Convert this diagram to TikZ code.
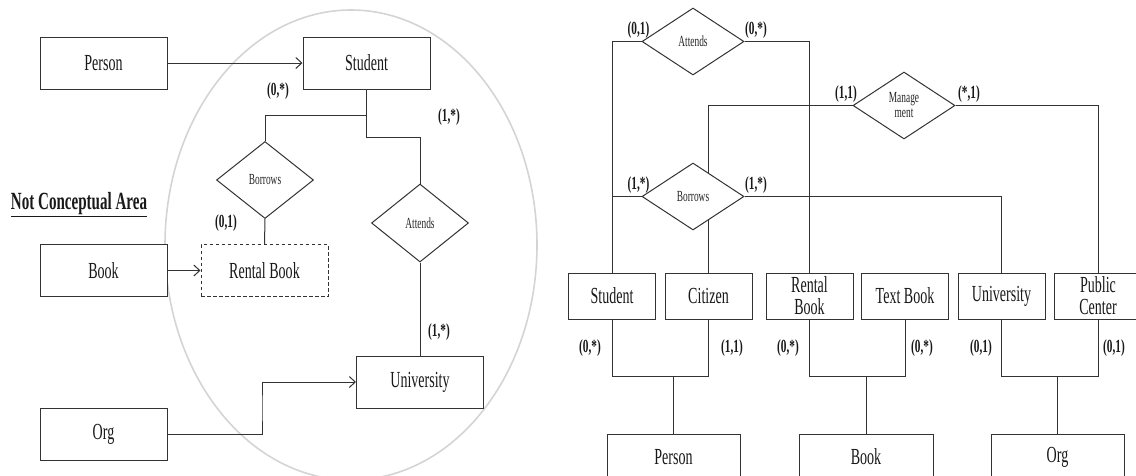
\documentclass[tikz,border=0pt]{standalone}
\usepackage{fontspec}
\setmainfont{Liberation Serif}[FakeStretch=0.61]
\usetikzlibrary{shapes.geometric,arrows.meta}
\pgfdeclarelayer{bg}
\pgfsetlayers{bg,main}

\tikzset{
  ent/.style={draw=black!80, fill=white, line width=1pt, inner sep=0pt,
    minimum width=127pt, minimum height=52pt, text=black!90,
    font=\fontsize{23}{22}\selectfont},
  sub/.style={ent, minimum width=87pt, minimum height=46pt, align=center},
  base/.style={ent, minimum width=133pt, minimum height=46pt},
  rel/.style={diamond, draw=black!80, fill=white, line width=1pt, inner sep=0pt,
    align=center, text=black!85, font=\fontsize{15.4}{15}\selectfont},
  lrel/.style={rel, minimum width=97pt, minimum height=78pt},
  rrel/.style={rel, minimum width=102pt, minimum height=67pt},
  card/.style={inner sep=0pt, text=black!90, font=\fontsize{18.5}{18}\selectfont\bfseries},
  link/.style={draw=black!80, line width=1pt},
  isa/.style={link, -{Straight Barb[length=6pt,width=11pt]}},
  area/.style={draw=black!17, line width=1.6pt},
}

\begin{document}
\begin{tikzpicture}[x=1pt,y=-1pt]
\useasboundingbox (0,0) rectangle (1136,475);
\clip (0,0) rectangle (1136,475);

% ---------------- left: conceptual schema ----------------
\begin{pgfonlayer}{bg}
  \draw[area] (351,245) ellipse [x radius=186pt, y radius=235pt];
\end{pgfonlayer}

\node[ent] (lperson)  at (103.5,63)  {Person};
\node[ent] (lstudent) at (366.5,63)  {Student};
\node[ent] (lbook)    at (103.5,270.5) {Book};
\node[ent, dash pattern=on 3.5pt off 2.5pt] (lrental) at (264.5,270.5) {Rental Book};
\node[ent] (lorg)     at (103.5,434.5) {Org};
\node[ent] (luni)     at (420,382)   {University};
\node[lrel, minimum height=77pt] (lborrows) at (265,180) {Borrows};
\node[lrel] (lattends) at (420,223) {Attends};

\node[inner sep=0pt, text=black!90, font=\fontsize{24.7}{24}\selectfont\bfseries]
  (lnote) at (79,205) {\underline{Not Conceptual Area}};

\coordinate (lsplit) at (366.5,115);
\coordinate (lbend)  at (366.5,137);
\coordinate (lstep)  at (262,408);

\draw[isa] (lperson) -- (lstudent);
\draw[isa] (lbook) -- (lrental);
\draw[link] (lstudent.south) -- (lsplit) -| (lborrows.north);
\draw[link] (lsplit) -- (lbend) -| (lattends.north);
\draw[link] (lborrows.south) -- (lrental.north);
\draw[link] (lattends.south) -- (luni.north);
\draw[isa] (lorg.east) -| (lstep) |- (luni.west);

\node[card] at (278,91)  {(0,*)};
\node[card] at (449,117) {(1,*)};
\node[card] at (226,223) {(0,1)};
\node[card] at (439,332) {(1,*)};

% ---------------- right: logical schema ----------------
\node[rrel] (rattends) at (693,41.5)  {Attends};
\node[rrel] (rmanage)  at (904,105.5) {Manage\\ment};
\node[rrel] (rborrows) at (693,196.5) {Borrows};

\node[sub] (rstudent) at (612,296)    {Student};
\node[sub] (rcitizen) at (708.5,296)  {Citizen};
\node[sub] (rrental)  at (809.5,296)  {Rental\\Book};
\node[sub] (rtext)    at (905,296)    {Text Book};
\node[sub] (runi)     at (1001.5,296) {University};
\node[sub] (rpublic)  at (1098,296)   {Public\\Center};

\node[base] (rperson) at (673.5,457) {Person};
\node[base, minimum width=134pt] (rbook) at (866,457) {Book};
\node[base] (rorg)    at (1057.5,457) {Org};

\coordinate (rj1) at (673.5,376);
\coordinate (rj2) at (866,376);
\coordinate (rj3) at (1057.5,376);

\begin{pgfonlayer}{bg}
  \draw[link] (rattends.west) -| (rstudent.north);
  \draw[link] (rattends.east) -| (rrental.north);
  \draw[link] (rmanage.west) -| (rcitizen.north);
  \draw[link] (rmanage.east) -| (rpublic.north);
  \draw[link] (rborrows.west) -- (rborrows.west -| rstudent.north);
  \draw[link] (rborrows.east) -| (runi.north);

  \draw[link] (rstudent.south) -- (rstudent.south |- rj1) -- (rcitizen.south |- rj1) -- (rcitizen.south);
  \draw[link] (rj1) -- (rperson.north);
  \draw[link] (rrental.south) -- (rrental.south |- rj2) -- (rtext.south |- rj2) -- (rtext.south);
  \draw[link] (rj2) -- (rbook.north);
  \draw[link] (runi.south) -- (runi.south |- rj3) -- (rpublic.south |- rj3) -- (rpublic.south);
  \draw[link] (rj3) -- (rorg.north);
\end{pgfonlayer}

\node[card] at (638.5,30) {(0,1)};
\node[card] at (756,30)   {(0,*)};
\node[card] at (846,94)   {(1,1)};
\node[card] at (969,94)   {(*,1)};
\node[card] at (638.5,185) {(1,*)};
\node[card] at (756,185)  {(1,*)};

\node[card] at (590,348)  {(0,*)};
\node[card] at (732,348)  {(1,1)};
\node[card] at (788,348)  {(0,*)};
\node[card] at (922,348)  {(0,*)};
\node[card] at (981,348)  {(0,1)};
\node[card] at (1114,348) {(0,1)};
\end{tikzpicture}
\end{document}
